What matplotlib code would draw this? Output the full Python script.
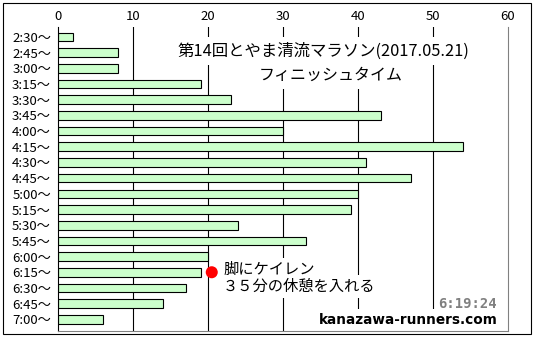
import matplotlib
matplotlib.use("Agg")
import matplotlib.pyplot as plt
from matplotlib.patches import Rectangle

plt.rcParams["font.family"] = ["Noto Sans CJK JP", "DejaVu Sans"]

# finish-time buckets and number of runners in each
labels = ["2:30〜", "2:45〜", "3:00〜", "3:15〜", "3:30〜", "3:45〜", "4:00〜",
          "4:15〜", "4:30〜", "4:45〜", "5:00〜", "5:15〜", "5:30〜", "5:45〜",
          "6:00〜", "6:15〜", "6:30〜", "6:45〜", "7:00〜"]
counts = [2, 8, 8, 19, 23, 43, 30, 54, 41, 47, 40, 39, 24, 33, 20, 19, 17, 14, 6]
xticks = [0, 10, 20, 30, 40, 50, 60]

title1 = "第14回とやま清流マラソン(2017.05.21)"
title2 = "フィニッシュタイム"
note1 = "脚にケイレン"
note2 = "３５分の休憩を入れる"
my_time = "6:19:24"
my_bucket = "6:15〜"
my_x = 20.5
site = "kanazawa-runners.com"

W, H = 535, 339
fig = plt.figure(figsize=(W / 100, H / 100), dpi=100)


def px(x, y):
    return x / W, 1 - y / H


# outer frame
fig.patches.append(Rectangle(px(2.5, 334), 528.5 / W, 331.5 / H,
                             transform=fig.transFigure, fill=False,
                             edgecolor="black", linewidth=0.8))

ax = fig.add_axes([58 / W, 1 - 331 / H, 450 / W, 304 / H])
pos = list(range(len(labels)))
ax.barh(pos, counts, height=0.55, color="#ccffcc", edgecolor="black",
        linewidth=0.8, zorder=2)
for x in xticks[1:-1]:
    ax.axvline(x, color="black", linewidth=0.8, zorder=0.5)

ax.set_xlim(xticks[0], xticks[-1])
ax.set_ylim(len(labels) - 1 + 0.746, -0.638)
ax.set_xticks(xticks)
ax.set_yticks(pos)
ax.set_yticklabels(labels)
ax.xaxis.tick_top()
ax.tick_params(axis="both", length=0, labelsize=9.5)
ax.tick_params(axis="x", pad=3)
ax.tick_params(axis="y", pad=5)
ax.spines["top"].set_visible(False)
ax.spines["left"].set_color("black")
ax.spines["right"].set_color("#808080")
ax.spines["bottom"].set_color("#808080")
for s in ax.spines.values():
    s.set_linewidth(0.8)
    s.set_zorder(3)

ft = fig.transFigure
box = dict(facecolor="white", edgecolor="none", pad=4)
ax.text(*px(323, 51), title1, ha="center", va="center", fontsize=11.8,
        bbox=box, zorder=2.2, transform=ft)
ax.text(*px(331, 75), title2, ha="center", va="center", fontsize=11.5,
        bbox=box, zorder=2.2, transform=ft)

# marker for my own finish
ax.scatter([my_x], [labels.index(my_bucket)], s=75, color="red", zorder=4,
           edgecolors="none")
nbox = dict(facecolor="white", edgecolor="none", pad=2)
ax.text(*px(223, 269), note1, ha="left", va="center", fontsize=11,
        bbox=nbox, zorder=2.2, transform=ft)
ax.text(*px(223, 286.5), note2, ha="left", va="center", fontsize=11,
        bbox=nbox, zorder=2.2, transform=ft)

ax.text(*px(497, 304), my_time, ha="right", va="center", fontsize=10,
        fontweight="bold", color="#808080", family="DejaVu Sans Mono",
        zorder=2.2, transform=ft)
ax.text(*px(498, 320), site, ha="right", va="center", fontsize=9.8,
        fontweight="bold", color="black", family="DejaVu Sans",
        bbox=dict(facecolor="white", edgecolor="none", pad=3), zorder=2.2,
        transform=ft)

fig.savefig("out.png", dpi=100)
